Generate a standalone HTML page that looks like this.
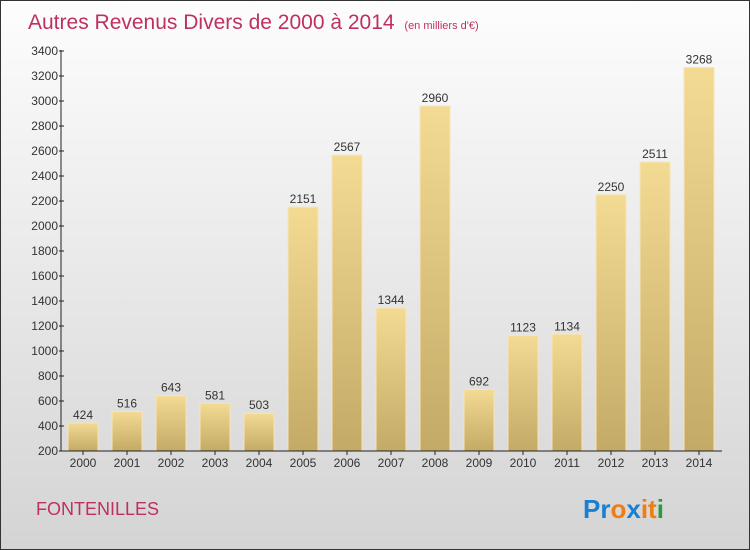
<!DOCTYPE html>
<html><head><meta charset="utf-8"><style>
body{margin:0}
#c{width:748px;height:548px;border:1px solid #333;background:linear-gradient(#fdfdfd,#d4d4d4);position:relative;font-family:"Liberation Sans",sans-serif}
</style></head><body>
<div id="c">
<svg width="748" height="548" style="position:absolute;left:0;top:0" id="svg">
<defs><linearGradient id="bg" x1="0" y1="0" x2="0" y2="1"><stop offset="0" stop-color="#f3db94"/><stop offset="1" stop-color="#c3aa66"/></linearGradient></defs>
<text x="27" y="28" font-size="21" fill="#c0305f">Autres Revenus Divers de 2000 à 2014 <tspan font-size="11" dx="4">(en milliers d'€)</tspan></text>
<g id="bars"></g>
<line x1="60" y1="49" x2="60" y2="450" stroke="#222"/>
<line x1="60" y1="450" x2="721" y2="450" stroke="#222"/>
<g id="axes"></g>
<text x="35" y="514" font-size="18" fill="#c0305f">FONTENILLES</text>
<text x="582" y="517" font-size="26" font-weight="bold"><tspan fill="#1a7fd0">Pr</tspan><tspan fill="#f07d12">o</tspan><tspan fill="#1a7fd0">x</tspan><tspan fill="#f07d12">it</tspan><tspan fill="#2a9a3a">i</tspan></text>
</svg>
</div>
<script>
const years=["2000","2001","2002","2003","2004","2005","2006","2007","2008","2009","2010","2011","2012","2013","2014"];
const values=[424,516,643,581,503,2151,2567,1344,2960,692,1123,1134,2250,2511,3268];
const yTicks=[200,400,600,800,1000,1200,1400,1600,1800,2000,2200,2400,2600,2800,3000,3200,3400];
const NS="http://www.w3.org/2000/svg";
const y=v=>450-(v-200)*0.125;
const x=i=>82+i*44;
const bars=document.getElementById('bars'),axes=document.getElementById('axes');
function mk(tag,attrs,parent){const e=document.createElementNS(NS,tag);for(const k in attrs)e.setAttribute(k,attrs[k]);parent.appendChild(e);return e;}
values.forEach((v,i)=>{
 const r=mk('rect',{x:x(i)-15,y:y(v),width:30,height:450-y(v),fill:'url(#bg)',stroke:'#f5e6b5','stroke-width':1},bars);
 
 
 const t=mk('text',{x:x(i),y:y(v)-4,'text-anchor':'middle','font-size':12,fill:'#333'},bars);
 t.textContent=v;
 
 
 const xl=mk('text',{x:x(i),y:466,'text-anchor':'middle','font-size':12,fill:'#333'},axes);
 xl.textContent=years[i];
 
 
 mk('line',{x1:x(i),x2:x(i),y1:450,y2:454,stroke:'#222'},axes);
});
yTicks.forEach(v=>{
 mk('line',{x1:58,x2:63,y1:y(v),y2:y(v),stroke:'#222'},axes);
 const t=mk('text',{x:57,y:y(v)+4,'text-anchor':'end','font-size':12,fill:'#333'},axes);
 t.textContent=v;
 
 
});
</script>
</body></html>
